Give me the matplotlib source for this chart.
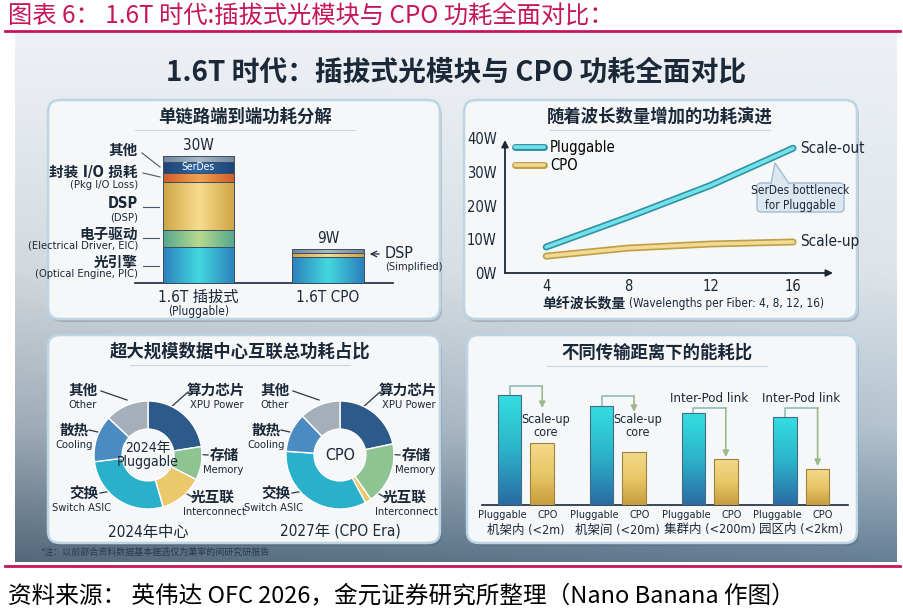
import numpy as np
import matplotlib
matplotlib.use('Agg')
import matplotlib.pyplot as plt
import matplotlib.patheffects as pe
import matplotlib.transforms as mtrans
from matplotlib.patches import FancyBboxPatch, Polygon
from matplotlib.colors import LinearSegmentedColormap
from matplotlib import font_manager

# pick a narrow latin font if one is installed
LAT, STRETCH = 'Roboto', 'normal'
for f in font_manager.fontManager.ttflist:
    if 'Narrow' in f.name or 'Condensed' in f.name or f.stretch in ('condensed', 'semi-condensed'):
        if f.weight in (400, 'normal', 'regular'):
            LAT, STRETCH = f.name, f.stretch
            break
CJK = 'Noto Sans CJK SC'
plt.rcParams['font.family'] = [LAT, CJK, 'DejaVu Sans']
plt.rcParams['font.stretch'] = STRETCH
ZH = [CJK, 'DejaVu Sans']

# ---- data ----
# panel 1: single link power breakdown (W)
seg_names = ['光引擎', '电子驱动', 'DSP', '封装 I/O 损耗', 'SerDes', '其他']
plug_w = [8.5, 4.0, 11.5, 2.0, 2.7, 1.3]
cpo_w = [6.2, 0.9, 0.9]
bar_names = ['1.6T 插拔式', '1.6T CPO']
bar_totals = ['30W', '9W']

# panel 2: power vs wavelengths per fiber
wavelengths = [4, 8, 12, 16]
plug_curve = [7.7, 16.6, 26.0, 37.0]
cpo_curve = [5.0, 7.4, 8.6, 9.2]

# panel 3: data center power share (%)
donut_parts = ['算力芯片', '存储', '光互联', '交换', '散热', '其他']
donut_en = ['XPU Power', 'Memory', 'Interconnect', 'Switch ASIC', 'Cooling', 'Other']
share_2024 = [22.5, 10.0, 13.0, 27.5, 14.0, 13.0]
share_2027 = [21.7, 18.6, 1.9, 33.9, 11.7, 12.2]

# panel 4: energy by distance (relative)
distances = ['机架内 (<2m)', '机架间 (<20m)', '集群内 (<200m)', '园区内 (<2km)']
plug_energy = [110, 99, 92, 88]
cpo_energy = [62, 53, 46, 36]
link_notes = ['Scale-up\ncore', 'Scale-up\ncore', 'Inter-Pod link', 'Inter-Pod link']

W, H = 904, 614
fig = plt.figure(figsize=(W / 100, H / 100), dpi=100)
bg = fig.add_axes([0, 0, 1, 1])
bg.set_axis_off()


def px_axes(x0, y0, x1, y1):
    return fig.add_axes([x0 / W, 1 - y1 / H, (x1 - x0) / W, (y1 - y0) / H])


def grad_fill(ax, patch, colors, horizontal=True):
    cmap = LinearSegmentedColormap.from_list('g', colors)
    x0, y0 = patch.get_xy()
    w, h = patch.get_width(), patch.get_height()
    arr = np.linspace(0, 1, 64)
    arr = arr.reshape(1, -1) if horizontal else arr.reshape(-1, 1)
    im = ax.imshow(arr, cmap=cmap, extent=[x0, x0 + w, y0, y0 + h],
                   aspect='auto', origin='lower', zorder=patch.get_zorder() - 0.1)
    im.set_clip_path(patch)
    patch.set_facecolor('none')


# ---- background ----
ny, nx = 200, 300
yy, xx = np.mgrid[0:1:ny * 1j, 0:1:nx * 1j]
stops_t = [0, 0.45, 0.75, 1.0]
stops_c = [(0.93, 0.945, 0.96), (0.87, 0.895, 0.915), (0.70, 0.76, 0.81), (0.40, 0.50, 0.59)]
img = np.zeros((ny, nx, 3))
for k in range(3):
    img[..., k] = np.interp(yy, stops_t, [c[k] for c in stops_c])
img *= (1 - 0.18 * (1 - xx) * yy ** 1.5)[..., None]
bg.imshow(img, extent=[15, 897, 562, 33], aspect='auto', zorder=0)

bg.plot([5, 900], [31, 31], color='#C5165C', lw=2, zorder=1)
bg.plot([5, 900], [566, 566], color='#C5165C', lw=2, zorder=1)
bg.text(8, 17, '图表 6： 1.6T 时代:插拔式光模块与 CPO 功耗全面对比：', color='#C5165C',
        fontsize=17.5, family=ZH, va='center', ha='left')
bg.text(8, 596, '资料来源： 英伟达 OFC 2026，金元证券研究所整理（Nano Banana 作图）',
        color='black', fontsize=17, family=ZH, va='center', ha='left')
bg.text(456, 72, '1.6T 时代：插拔式光模块与 CPO 功耗全面对比', color='#1B2838',
        fontsize=20, family=ZH, fontweight='bold', ha='center', va='center')
bg.text(40, 552, '*注：以前部合资料数据基本据选仅为菓宰的间研究研报告', color='#2A3A4A',
        fontsize=6.5, family=ZH, ha='left', va='center')

panels = [(48, 100, 440, 319), (464, 100, 857, 319), (48, 335, 440, 543), (467, 335, 857, 543)]
for x0, y0, x1, y1 in panels:
    bg.add_patch(FancyBboxPatch((x0 + 2, y0 + 3), x1 - x0, y1 - y0,
                                boxstyle='round,pad=0,rounding_size=12',
                                fc='#44576A', ec='none', alpha=0.25, zorder=1))
    bg.add_patch(FancyBboxPatch((x0, y0), x1 - x0, y1 - y0,
                                boxstyle='round,pad=0,rounding_size=12',
                                fc='#F5F7F9', ec='#BCD5E5', lw=1.8, zorder=2))

titles = [('单链路端到端功耗分解', 245, 117), ('随着波长数量增加的功耗演进', 660, 117),
          ('超大规模数据中心互联总功耗占比', 240, 352), ('不同传输距离下的能耗比', 657, 353)]
for s, x, y in titles:
    bg.text(x, y, s, fontsize=12.5, fontweight='bold', family=ZH, color='#1B2838',
            ha='center', va='center', zorder=3)
    bg.plot([x - 110, x + 110], [y + 13, y + 13], color='#C8D6E0', lw=0.8, zorder=3)

bg.set_xlim(0, W)
bg.set_ylim(H, 0)

# ---- panel 1: stacked bars ----
ax1 = px_axes(135, 135, 393, 283)
seg_colors = [['#2C80BC', '#42D8DF', '#2C80BC'], ['#55A88E', '#B8DA8E', '#55A88E'],
              ['#CFA443', '#F6DD8E', '#CFA443'], ['#D15C2B', '#F2A352', '#D15C2B'],
              ['#1C4475', '#2F68A2', '#1C4475'], ['#6F869E', '#A9B9C9', '#6F869E']]
cpo_colors = [seg_colors[0], seg_colors[2], seg_colors[5]]
for xpos, vals, cols in [(0, plug_w, seg_colors), (1, cpo_w, cpo_colors)]:
    bottom = 0
    for v, c in zip(vals, cols):
        bar = ax1.bar(xpos, v, bottom=bottom, width=0.55, edgecolor='#3E4E60', lw=0.7, zorder=3)[0]
        grad_fill(ax1, bar, c)
        bottom += v
for xpos, vals, lab in zip([0, 1], [plug_w, cpo_w], bar_totals):
    ax1.text(xpos, sum(vals) + 0.8, lab, ha='center', va='bottom', fontsize=11, color='#1B2838')
ax1.text(0, sum(plug_w[:4]) + plug_w[4] / 2, 'SerDes', ha='center', va='center',
         fontsize=7.5, color='white', zorder=5)
ax1.set_xlim(-0.49, 1.502)
ax1.set_ylim(0, 35)
for sp in ['top', 'right', 'left']:
    ax1.spines[sp].set_visible(False)
ax1.spines['bottom'].set_color('#1B2838')
ax1.spines['bottom'].set_linewidth(1.2)
ax1.set_xticks([])
ax1.set_yticks([])
ax1.patch.set_alpha(0)
tr1 = mtrans.blended_transform_factory(ax1.transData, bg.transData)
ax1.text(0, 297, bar_names[0], transform=tr1, ha='center', va='center', fontsize=11, color='#1B2838')
ax1.text(0, 312, '(Pluggable)', transform=tr1, ha='center', va='center', fontsize=8.5, color='#1B2838')
ax1.text(1, 297, bar_names[1], transform=tr1, ha='center', va='center', fontsize=11, color='#1B2838')

left_labels = [('其他', None, 150, None, (142, 153, 160, 167)),
               ('封装 I/O 损耗', '(Pkg I/O Loss)', 172, 185, (143, 173, 160, 177)),
               ('DSP', '(DSP)', 203, 217, (143, 207, 159, 207)),
               ('电子驱动', '(Electrical Driver, EIC)', 234, 246, (143, 238, 159, 238)),
               ('光引擎', '(Optical Engine, PIC)', 262, 274, (143, 266, 159, 266))]
for zh, en, yz, ye, ln in left_labels:
    bg.text(138, yz, zh, ha='right', va='center', fontsize=10.5, fontweight='bold', color='#1B2838', zorder=4)
    if en:
        bg.text(138, ye, en, ha='right', va='center', fontsize=8, color='#1B2838', zorder=4)
    bg.plot([ln[0], ln[2]], [ln[1], ln[3]], color='#4A5868', lw=0.8, zorder=4)
bg.annotate('', xy=(367, 254), xytext=(382, 254),
            arrowprops=dict(arrowstyle='->', color='#1B2838', lw=0.9), zorder=4)
bg.text(385, 254, 'DSP', ha='left', va='center', fontsize=11.5, color='#1B2838', zorder=4)
bg.text(385, 267, '(Simplified)', ha='left', va='center', fontsize=8, color='#1B2838', zorder=4)

# ---- panel 2: lines ----
ax2 = px_axes(505, 130, 833, 273)
ax2.patch.set_alpha(0)
ax2.plot(wavelengths, plug_curve, color='#73E1E7', lw=2.6, solid_capstyle='round', label='Pluggable',
         path_effects=[pe.Stroke(linewidth=5, foreground='#2E93A8'), pe.Normal()], zorder=3)
ax2.plot(wavelengths, cpo_curve, color='#F2DA92', lw=2.6, solid_capstyle='round', label='CPO',
         path_effects=[pe.Stroke(linewidth=5, foreground='#BE9E48'), pe.Normal()], zorder=3)
ax2.set_xlim(2.0, 17.94)
ax2.set_ylim(0, 42.4)
ax2.set_xticks(wavelengths)
ax2.set_yticks([0, 10, 20, 30, 40])
ax2.set_yticklabels(['0W', '10W', '20W', '30W', '40W'])
ax2.tick_params(length=0, labelsize=10.5, colors='#1B2838')
ax2.tick_params(axis='x', pad=4)
ax2.tick_params(axis='y', pad=6)
for sp in ax2.spines.values():
    sp.set_visible(False)
ax2.annotate('', xy=(1, 0), xytext=(0, 0), xycoords='axes fraction',
             arrowprops=dict(arrowstyle='-|>', color='#1B2838', lw=1.3, mutation_scale=10, shrinkA=0, shrinkB=0))
ax2.annotate('', xy=(0, 0.93), xytext=(0, 0), xycoords='axes fraction',
             arrowprops=dict(arrowstyle='-|>', color='#1B2838', lw=1.3, mutation_scale=10, shrinkA=0, shrinkB=0))
ax2.legend(loc='upper left', bbox_to_anchor=(0.03, 0.93), frameon=False, fontsize=10.5,
           handlelength=2.0, handletextpad=0.4, labelspacing=0.2, borderpad=0, borderaxespad=0)
ax2.annotate('Scale-out', xy=(wavelengths[-1], plug_curve[-1]), xytext=(5, 0), textcoords='offset points',
             ha='left', va='center', fontsize=11, color='#1B2838', annotation_clip=False)
ax2.annotate('Scale-up', xy=(wavelengths[-1], cpo_curve[-1]), xytext=(5, 0), textcoords='offset points',
             ha='left', va='center', fontsize=11, color='#1B2838', annotation_clip=False)
bg.text(626, 303, '单纤波长数量', ha='right', va='center', fontsize=10, fontweight='bold',
        family=ZH, color='#1B2838', zorder=4)
bg.text(629, 303, '(Wavelengths per Fiber: 4, 8, 12, 16)', ha='left', va='center', fontsize=8.5,
        color='#1B2838', zorder=4)
bg.add_patch(FancyBboxPatch((757, 183), 87, 29, boxstyle='round,pad=0,rounding_size=4',
                            fc='#DCE7EF', ec='#9FBCD0', lw=1, zorder=4))
bg.add_patch(Polygon([(771, 184.2), (789, 184.2), (775, 163)], closed=True, fc='#DCE7EF', ec='none', zorder=5))
bg.plot([771, 775, 789], [183.5, 163, 183.5], color='#9FBCD0', lw=1, zorder=5)
bg.text(800, 198, 'SerDes bottleneck\nfor Pluggable', ha='center', va='center', fontsize=8.5,
        linespacing=1.1, color='#1B2838', zorder=6)

# ---- panel 3: donuts ----
donut_colors = ['#2C5A8A', '#8DC491', '#EAC86B', '#2BB0CB', '#4A8CC2', '#A4AFBA']
R = 54
for cx, shares, center_txt, sub in [(148, share_2024, '2024年\nPluggable', '2024年中心'),
                                    (340, share_2027, 'CPO', '2027年 (CPO Era)')]:
    axp = px_axes(cx - R * 1.05, 455 - R * 1.05, cx + R * 1.05, 455 + R * 1.05)
    axp.pie(shares, colors=donut_colors, startangle=90, counterclock=False, radius=1,
            wedgeprops=dict(width=0.52, edgecolor='white', linewidth=1.0))
    axp.set_xlim(-1.05, 1.05)
    axp.set_ylim(-1.05, 1.05)
    axp.set_aspect('equal')
    axp.patch.set_alpha(0)
    axp.text(0, 0, center_txt, ha='center', va='center', fontsize=11.5 if center_txt == 'CPO' else 10,
             color='#1B2838', linespacing=1.05)
    bg.text(cx, 532, sub, ha='center', va='center', fontsize=11, color='#1B2838', zorder=4)

zh_dx = {'其他': -65, '算力芯片': 68, '散热': -74, '存储': 76, '交换': -64, '光互联': 65}
en_dx = {'Other': -65, 'XPU Power': 69, 'Cooling': -74, 'Memory': 75, 'Switch ASIC': -66, 'Interconnect': 66}
lab_y = {'其他': 390, '算力芯片': 390, '散热': 430, '存储': 455, '交换': 493, '光互联': 497}
lead = {'其他': (-47, 391, -21, 400), '算力芯片': (40, 392, 22, 408), '散热': (-59, 430, -46, 433),
        '存储': (60, 455, 45, 454), '交换': (-48, 493, -30, 490), '光互联': (46, 498, 32, 490)}
for cx in [148, 340]:
    for zh, en in zip(donut_parts, donut_en):
        y = lab_y[zh]
        bg.text(cx + zh_dx[zh], y, zh, ha='center', va='center', fontsize=10.5, fontweight='bold',
                family=ZH, color='#1B2838', zorder=4)
        bg.text(cx + en_dx[en], y + 15, en, ha='center', va='center', fontsize=8, color='#1B2838', zorder=4)
        l = lead[zh]
        bg.plot([cx + l[0], cx + l[2]], [l[1], l[3]], color='#2A3848', lw=0.9, zorder=5)

# ---- panel 4: grouped bars ----
ax4 = px_axes(482, 380, 848, 505)
ax4.patch.set_alpha(0)
xs = np.arange(len(distances))
off, bw = 0.177, 0.256
pb = ax4.bar(xs - off, plug_energy, width=bw, edgecolor='#3F6E86', lw=0.8, zorder=3)
cb = ax4.bar(xs + off, cpo_energy, width=bw, edgecolor='#9C8440', lw=0.8, zorder=3)
for b in pb:
    grad_fill(ax4, b, ['#2A6BA3', '#2CB3C9', '#34DDE0'], horizontal=False)
for b in cb:
    grad_fill(ax4, b, ['#C89D3D', '#E8C767', '#F3D98A'], horizontal=False)
bend = [119, 109, 97, 97]
tip = [97, 93, 48, 39]
for i in range(len(distances)):
    xp, xc = xs[i] - off, xs[i] + off
    ax4.plot([xp, xp, xc], [plug_energy[i], bend[i], bend[i]], color='#8FBDB6', lw=1.2, zorder=2,
             clip_on=False)
    ax4.annotate('', xy=(xc, tip[i]), xytext=(xc, bend[i]),
                 arrowprops=dict(arrowstyle='-|>', color='#9DB88A', lw=1.2, mutation_scale=9,
                                 shrinkA=0, shrinkB=0), annotation_clip=False)
    if i < 2:
        ax4.text(xc + 0.04, 79, link_notes[i], ha='center', va='center', fontsize=9,
                 linespacing=1.05, color='#1B2838')
    else:
        ax4.text(xs[i], 107, link_notes[i], ha='center', va='center', fontsize=9.5, color='#1B2838')
ax4.set_xlim(-0.479, 3.508)
ax4.set_ylim(0, 125)
for sp in ['top', 'right', 'left']:
    ax4.spines[sp].set_visible(False)
ax4.spines['bottom'].set_color('#1B2838')
ax4.spines['bottom'].set_linewidth(1.2)
ax4.set_xticks([])
ax4.set_yticks([])
tr4 = mtrans.blended_transform_factory(ax4.transData, bg.transData)
for i, d in enumerate(distances):
    ax4.text(xs[i] - off - 0.08, 515, 'Pluggable', transform=tr4, ha='center', va='center',
             fontsize=7.8, color='#1B2838')
    ax4.text(xs[i] + off + 0.06, 515, 'CPO', transform=tr4, ha='center', va='center',
             fontsize=7.8, color='#1B2838')
    ax4.text(xs[i], 530, d, transform=tr4, ha='center', va='center', fontsize=9, color='#1B2838')

fig.savefig('out.png', dpi=100)
